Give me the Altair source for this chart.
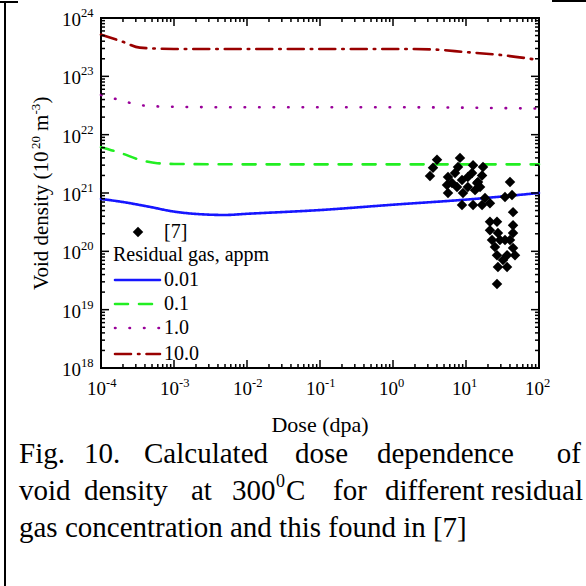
import altair as alt
import pandas as pd

# ---------------- data ----------------
# Calculated void density (m^-3) versus dose (dpa) for each residual gas level (appm)
GAS_LEVELS = ["0.01", "0.1", "1.0", "10.0"]

DOSE_001 = [1e-4, 2e-4, 4.6e-4, 1e-3, 2.5e-3, 5e-3, 1e-2, 1e-1, 1e0, 1e1, 1e2]
DENS_001 = [7.9e20, 7.0e20, 5.8e20, 4.8e20, 4.3e20, 4.2e20, 4.4e20, 5.1e20, 6.3e20, 7.7e20, 1.0e21]

DOSE_01 = [1e-4, 2e-4, 3.2e-4, 5.9e-4, 1e-3, 1e-2, 1e-1, 1e0, 1e1, 1e2]
DENS_01 = [6.1e21, 4.7e21, 3.8e21, 3.24e21, 3.15e21, 3.1e21, 3.1e21, 3.1e21, 3.1e21, 3.1e21]

DOSE_1 = [1e-4, 2e-4, 3.4e-4, 1e-3, 1e-2, 1e-1, 1e0, 1e1, 1e2]
DENS_1 = [4.8e22, 3.8e22, 3.2e22, 3.0e22, 2.95e22, 2.95e22, 2.95e22, 2.9e22, 2.8e22]

DOSE_10 = [1e-4, 2e-4, 3.4e-4, 1e-3, 1e-2, 1e-1, 1e0, 3.2e0, 1e1, 3.2e1, 1e2]
DENS_10 = [5.2e23, 3.9e23, 3.1e23, 2.95e23, 2.95e23, 2.95e23, 2.95e23, 2.9e23, 2.6e23, 2.3e23, 1.9e23]

# Measured void densities from ref. [7]
REF7_DOSE = [4.01, 3.53, 3.21, 5.67, 5.49, 5.67, 6.43, 8.27, 7.77, 7.07, 8.81, 7.53, 9.10,
             8.81, 10.6, 10.6, 12.5, 12.1, 14.6, 13.3, 12.5, 17.1, 16.6, 15.6, 18.2, 16.6,
             14.2, 21.3, 40.1, 42.7, 34.2, 44.1, 44.1, 21.3, 26.6, 44.1, 21.3, 22.7, 27.4,
             34.2, 40.1, 24.9, 44.1, 26.6, 36.5, 46.9, 27.4, 36.5, 26.6, 32.1, 29.2]
REF7_DENS = [3.7e21, 2.7e21, 1.95e21, 1.88e21, 1.37e21, 1.0e21, 1.48e21, 4.0e21, 2.8e21,
             2.2e21, 1.67e21, 1.27e21, 1.0e21, 6.2e20, 1.88e21, 1.27e21, 3.0e21, 2.2e21,
             1.54e21, 1.12e21, 6.2e20, 2.8e21, 2.0e21, 1.27e21, 8.2e20, 6.2e20, 1.48e21,
             6.7e20, 1.54e21, 9.2e20, 8.5e20, 4.7e20, 2.8e20, 3.2e20, 3.2e20, 2.06e20,
             2.3e20, 1.56e20, 2.06e20, 1.56e20, 1.56e20, 1.19e20, 1.14e20, 8.6e19, 8.6e19,
             8.6e19, 5.4e19, 5.4e19, 2.75e19, 7.1e19, 1.56e20]

X_EXPONENTS = [-4, -3, -2, -1, 0, 1, 2]
Y_EXPONENTS = [18, 19, 20, 21, 22, 23, 24]

X_TITLE = "Dose (dpa)"
LEGEND_TITLE = "Residual gas, appm"
REF_LABEL = "[7]"
CAPTION_1 = ["Fig.", "10.", "Calculated", "dose", "dependence", "of"]
CAPTION_2 = ["void", "density", "at", "300", "0", "C", "for", "different", "residual"]
CAPTION_3 = "gas concentration and this found in [7]"

# ---------------- styling / layout ----------------
SERIF = "Liberation Serif"
COLORS = ["#1616ff", "#22ee22", "#990099", "#990000"]
# dash patterns are drawn with round caps (each dash grows by the stroke width)
DASHES = [[1, 0], [13, 11], [0.5, 14], [16, 7, 1.5, 7]]
W, H = 438, 350

xs = alt.Scale(type="log", domain=[1e-4, 1e2], nice=False)
ys = alt.Scale(type="log", domain=[1e18, 1e24], nice=False)
one = pd.DataFrame({"k": [0]})


def text_at(txt, x, y, size, align="left", baseline="alphabetic", angle=0):
    return alt.Chart(one).mark_text(
        font=SERIF, fontSize=size, align=align, baseline=baseline, angle=angle, color="black"
    ).encode(x=alt.value(x), y=alt.value(y), text=alt.value(txt))


def hline(x1, x2, y, width=2, color="black", dash=None, cap="butt"):
    kw = dict(color=color, strokeWidth=width, strokeCap=cap)
    if dash is not None:
        kw["strokeDash"] = dash
    return alt.Chart(one).mark_rule(**kw).encode(
        x=alt.value(x1), x2=alt.value(x2), y=alt.value(y))


layers = []

# curves
rows = []
for lvl, ds, vs in zip(GAS_LEVELS, [DOSE_001, DOSE_01, DOSE_1, DOSE_10],
                       [DENS_001, DENS_01, DENS_1, DENS_10]):
    for i, (d, v) in enumerate(zip(ds, vs)):
        rows.append({"gas": lvl, "dose": d, "density": v, "i": i})
curves = alt.Chart(pd.DataFrame(rows)).mark_line(
    strokeWidth=2.6, interpolate="monotone", strokeCap="round"
).encode(
    x=alt.X("dose:Q", scale=xs, axis=None),
    y=alt.Y("density:Q", scale=ys, axis=None),
    color=alt.Color("gas:N", scale=alt.Scale(domain=GAS_LEVELS, range=COLORS), legend=None),
    strokeDash=alt.StrokeDash("gas:N", scale=alt.Scale(domain=GAS_LEVELS, range=DASHES), legend=None),
    order="i:Q",
)
layers.append(curves)

# measured points
pts = alt.Chart(pd.DataFrame({"dose": REF7_DOSE, "density": REF7_DENS})).mark_point(
    shape="diamond", filled=True, color="black", size=110, opacity=1
).encode(
    x=alt.X("dose:Q", scale=xs, axis=None),
    y=alt.Y("density:Q", scale=ys, axis=None),
)
layers.append(pts)

# inward ticks on all four sides
x_major = [10.0 ** e for e in X_EXPONENTS]
x_minor = [k * 10.0 ** e for e in X_EXPONENTS[:-1] for k in range(2, 10)]
y_major = [10.0 ** e for e in Y_EXPONENTS]
y_minor = [k * 10.0 ** e for e in Y_EXPONENTS[:-1] for k in range(2, 10)]

for vals, L in [(x_major, 8), (x_minor, 4)]:
    df = pd.DataFrame({"v": vals})
    base = alt.Chart(df).mark_rule(color="black", strokeWidth=1.5)
    layers.append(base.encode(x=alt.X("v:Q", scale=xs, axis=None), y=alt.value(H), y2=alt.value(H - L)))
    layers.append(base.encode(x=alt.X("v:Q", scale=xs, axis=None), y=alt.value(0), y2=alt.value(L)))
for vals, L in [(y_major, 8), (y_minor, 4)]:
    df = pd.DataFrame({"v": vals})
    base = alt.Chart(df).mark_rule(color="black", strokeWidth=1.5)
    layers.append(base.encode(y=alt.Y("v:Q", scale=ys, axis=None), x=alt.value(0), x2=alt.value(L)))
    layers.append(base.encode(y=alt.Y("v:Q", scale=ys, axis=None), x=alt.value(W), x2=alt.value(W - L)))

# tick labels: "10" with raised exponent
xl = pd.DataFrame({"v": x_major, "e": [str(e) for e in X_EXPONENTS]})
layers.append(alt.Chart(xl).mark_text(font=SERIF, fontSize=19, align="right", dx=5, baseline="alphabetic").encode(
    x=alt.X("v:Q", scale=xs, axis=None), y=alt.value(H + 27), text=alt.value("10")))
layers.append(alt.Chart(xl).mark_text(font=SERIF, fontSize=12.5, align="left", dx=5, baseline="alphabetic").encode(
    x=alt.X("v:Q", scale=xs, axis=None), y=alt.value(H + 19), text="e:N"))

yl = pd.DataFrame({"v": y_major, "e": [str(e) for e in Y_EXPONENTS]})
layers.append(alt.Chart(yl).mark_text(font=SERIF, fontSize=19, align="right", baseline="middle", dy=2).encode(
    y=alt.Y("v:Q", scale=ys, axis=None), x=alt.value(-20), text=alt.value("10")))
layers.append(alt.Chart(yl).mark_text(font=SERIF, fontSize=12.5, align="left", baseline="middle", dy=-5).encode(
    y=alt.Y("v:Q", scale=ys, axis=None), x=alt.value(-20), text="e:N"))

# axis titles
layers.append(text_at(X_TITLE, 219, 407, 22, align="center", baseline="middle"))
yt = [("Void density (10", 272, 21, 0), ("20", 131, 13, -8), ("m", 113, 21, 0),
      ("-3", 96.5, 13, -8), (")", 85.5, 21, 0)]
for txt, ypos, size, shift in yt:
    layers.append(text_at(txt, -53 + shift, ypos, size, align="left", angle=270))

# in-plot legend
layers.append(alt.Chart(one).mark_point(shape="diamond", filled=True, color="black", size=110, opacity=1)
              .encode(x=alt.value(37), y=alt.value(214)))
layers.append(text_at(REF_LABEL, 63, 214, 20, baseline="middle"))
layers.append(text_at(LEGEND_TITLE, 12, 237, 20, baseline="middle"))
for lvl, col, dash, ypos in zip(GAS_LEVELS, COLORS, DASHES, [262, 286, 310, 336]):
    layers.append(hline(14, 59, ypos, width=2.6, color=col, dash=dash, cap="round"))
    layers.append(text_at(lvl, 63, ypos, 20, baseline="middle"))

# caption
CAP = 29
cap_y1, cap_y2, cap_y3 = 445, 482, 519
for word, xpos in zip(CAPTION_1[:-1], [-82, -17, 43, 194, 276]):
    layers.append(text_at(word, xpos, cap_y1, CAP))
layers.append(text_at(CAPTION_1[-1], 480, cap_y1, CAP, align="right"))
c2 = CAPTION_2
layers.append(text_at(c2[0], -82, cap_y2, CAP))
layers.append(text_at(c2[1], -17, cap_y2, CAP))
layers.append(text_at(c2[2], 90, cap_y2, CAP))
layers.append(text_at(c2[3], 131, cap_y2, CAP))
layers.append(text_at(c2[4], 175, cap_y2 - 13, 18))
layers.append(text_at(c2[5], 185, cap_y2, CAP))
layers.append(text_at(c2[6], 232, cap_y2, CAP))
layers.append(text_at(c2[7], 284, cap_y2, CAP))
layers.append(text_at(c2[8], 482, cap_y2, CAP, align="right"))
layers.append(text_at(CAPTION_3, -82, cap_y3, CAP))

# page border lines
layers.append(alt.Chart(one).mark_rule(color="black", strokeWidth=2).encode(
    x=alt.value(-96), y=alt.value(-16), y2=alt.value(568)))
layers.append(hline(-101, -83, -16, width=2))
layers.append(hline(451, 485, -17, width=2))

chart = alt.layer(*layers).properties(
    width=W, height=H,
    padding={"left": 101, "top": 18, "right": 47, "bottom": 218},
    autosize=alt.AutoSizeParams(type="none"),
    background="white",
).configure_view(stroke="black", strokeWidth=2)

chart.save("out.html", embed_options={"renderer": "svg", "actions": False})
